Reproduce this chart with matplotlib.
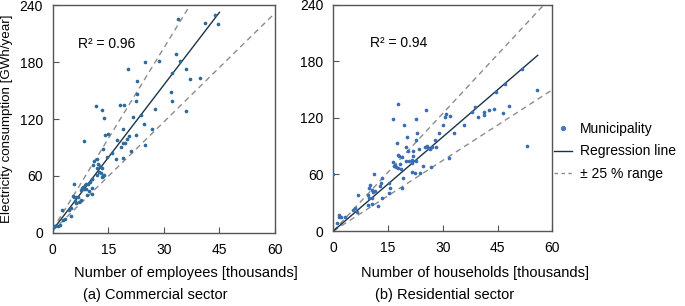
import numpy as np
import matplotlib.pyplot as plt
from matplotlib.lines import Line2D

plt.rcParams['font.family'] = ['Liberation Sans', 'DejaVu Sans']

# (a) commercial sector: employees [thousands], consumption [GWh/year]
com_x = [33.9, 43.8, 41.1, 44.7, 33.4, 34.3, 24.9, 28.8, 20.4, 32.1, 36.0, 22.7,
         37.0, 39.7, 22.8, 31.8, 22.4, 32.1, 11.7, 13.4, 18.2, 19.2, 36.0, 13.8,
         21.7, 23.7, 18.9, 24.7, 26.7, 14.1, 15.0, 8.5, 17.3, 20.6, 22.5, 20.1,
         18.9, 19.5, 18.4, 24.9, 13.7, 21.1, 14.6, 17.1, 19.0, 11.9, 11.2, 10.8,
         12.3, 12.7, 13.2, 11.9, 12.5, 12.9, 13.5, 11.9, 13.2, 13.8, 10.6, 10.0,
         9.6, 9.0, 8.8, 9.0, 8.2, 7.8, 7.5, 10.6, 10.6, 5.8, 5.6, 6.3, 5.8, 8.5,
         6.9, 9.7, 10.6, 9.2, 7.6, 7.0, 6.0, 6.4, 2.6, 4.9, 4.5, 4.8, 3.3, 2.9,
         2.0, 1.5, 0.6, 0.2, 16.0, 27.5]
com_y = [225, 230, 221, 220, 189, 181, 180, 181, 173, 169, 173, 160,
         162, 163, 146, 149, 139, 139, 134, 129, 135, 135, 128, 121,
         122, 124, 110, 115, 109, 103, 104, 97, 98, 102, 103, 99,
         95, 95, 91, 93, 88, 86, 80, 78, 79, 78, 76, 72,
         73, 71, 68, 68, 64, 63, 60, 61, 59, 61, 57, 54,
         52, 51, 50, 46, 48, 47, 45, 57, 47, 52, 39, 38, 38, 46,
         38, 44, 41, 40, 35, 33, 34, 32, 24, 26, 24, 18, 15, 14,
         8, 7, 7, 6, 84, 131]

# (b) residential sector: households [thousands], consumption [GWh/year]
res_x = [17.6, 25.4, 55.7, 51.8, 47.0, 44.5, 16.4, 22.7, 30.9, 32.0, 30.6,
         38.8, 38.1, 41.4, 42.7, 39.7, 41.4, 19.4, 35.8, 30.0, 33.1, 23.0,
         29.0, 20.1, 27.9, 17.5, 22.6, 25.0, 26.0, 26.5, 25.6, 27.1, 28.1,
         23.6, 19.9, 20.4, 17.8, 18.7, 18.1, 21.7, 21.9, 31.8, 19.9, 20.8,
         21.5, 22.7, 21.5, 16.4, 16.9, 17.6, 18.3, 18.5, 17.2, 16.6, 24.7,
         21.5, 22.4, 23.8, 26.7, 11.2, 13.3, 13.1, 12.8, 15.3, 15.5, 15.3,
         19.0, 18.9, 10.1, 9.9, 10.5, 11.4, 10.8, 9.4, 9.8, 10.5, 9.4, 12.3,
         10.7, 13.3, 6.7, 5.9, 6.4, 5.5, 1.6, 2.1, 1.6, 3.2, 0.9, 0.0, 53.0,
         44.0, 46.5, 48.0]
res_y = [135, 128, 150, 172, 156, 148, 119, 119, 124, 122, 121,
         132, 126, 126, 128, 121, 123, 113, 113, 113, 104, 104,
         104, 100, 97, 93, 97, 89, 88, 87, 90, 89, 89,
         87, 89, 85, 81, 79, 80, 85, 80, 78, 74, 74,
         75, 74, 72, 73, 70, 67, 71, 66, 68, 69, 69,
         63, 62, 62, 68, 60, 56, 51, 48, 51, 46, 40,
         56, 46, 49, 46, 44, 43, 41, 38, 35, 35, 28, 27,
         29, 35, 38, 24, 20, 22, 17, 15, 15, 15, 8, 60, 90,
         130, 125, 133]

r2_labels = ['R² = 0.96', 'R² = 0.94']
# regression lines: slope, intercept, x extent
reg_slope = [5.1, 3.33]
reg_icpt = [3.0, 0.0]
reg_xmax = [45, 56]

x_labels = ['Number of employees [thousands]', 'Number of households [thousands]']
captions = ['(a) Commercial sector', '(b) Residential sector']
dot_colors = ['#2d6b9a', '#3b6db4']

fig = plt.figure(figsize=(6.85, 3.06), dpi=100)
ax1 = fig.add_axes([0.077, 0.239, 0.3245, 0.744])
ax2 = fig.add_axes([0.4866, 0.245, 0.3197, 0.739])
axes = [ax1, ax2]
data = [(com_x, com_y), (res_x, res_y)]

for i, ax in enumerate(axes):
    xs, ys = data[i]
    ax.scatter(xs, ys, s=7, color=dot_colors[i], zorder=3, linewidths=0)
    xl = np.array([0, reg_xmax[i]])
    ax.plot(xl, reg_slope[i] * xl + reg_icpt[i], color='#1c3347', lw=1.0, zorder=2)
    xf = np.array([0, 60])
    for k in (1.25, 0.75):
        ax.plot(xf, k * (reg_slope[i] * xf + reg_icpt[i]), color='#8c8c8c',
                lw=1.0, ls=(0, (4, 3)), zorder=1)
    ax.set_xlim(0, 60)
    ax.set_ylim(0, 240)
    ax.set_xticks([0, 15, 30, 45, 60])
    ax.set_yticks([0, 60, 120, 180, 240])
    ax.tick_params(direction='in', length=4, width=0.8, color='#555555',
                   labelsize=10, pad=7)
    for sp in ax.spines.values():
        sp.set_color('#555555')
        sp.set_linewidth(1.0)

# axis titles and panel captions sit below the plots, placed in figure pixels
fig.text(186 / 685, 1 - 273 / 306, x_labels[0], ha='center', va='center', fontsize=10.5)
fig.text(475 / 685, 1 - 273 / 306, x_labels[1], ha='center', va='center', fontsize=10.5)
fig.text(155 / 685, 1 - 295 / 306, captions[0], ha='center', va='center', fontsize=10.5)
fig.text(445 / 685, 1 - 295 / 306, captions[1], ha='center', va='center', fontsize=10.5)

ax1.text(6.8, 199, r2_labels[0], fontsize=10, va='center')
ax2.text(10.0, 200, r2_labels[1], fontsize=10, va='center')
ax1.set_ylabel('Electricity consumption [GWh/year]', fontsize=9.6, labelpad=5)

handles = [
    Line2D([], [], marker='o', ls='none', ms=2.8, color='#4a78b8'),
    Line2D([], [], color='#1c3347', lw=1.0),
    Line2D([], [], color='#8c8c8c', lw=1.0, ls=(0, (2.5, 2.5))),
]
fig.legend(handles, ['Municipality', 'Regression line', '± 25 % range'],
           loc='center left', bbox_to_anchor=(0.79, 0.505), frameon=False,
           fontsize=10, handlelength=1.3, handletextpad=0.6, labelspacing=0.6)

fig.savefig('out.png', dpi=100)
